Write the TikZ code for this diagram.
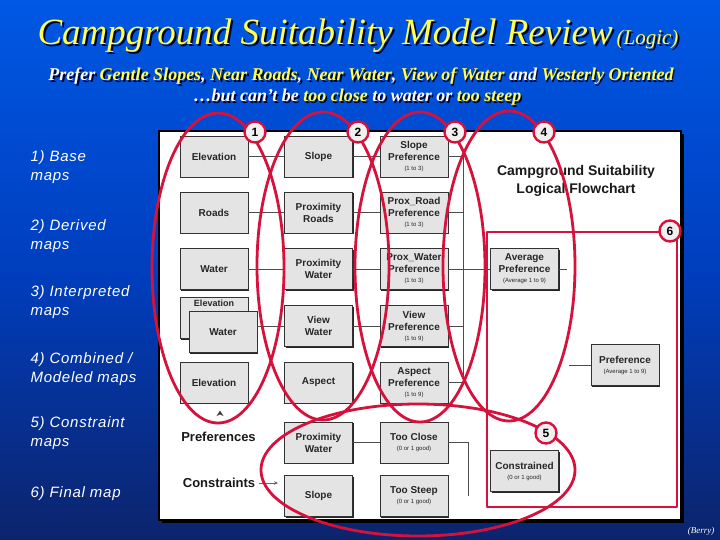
\documentclass[tikz,border=0pt]{standalone}
\usepackage{fontspec}
\setmainfont{Liberation Serif}
\newfontfamily\arial{Liberation Sans}
\newfontfamily\arialsp[LetterSpace=5]{Liberation Sans}
\usetikzlibrary{shadows,arrows.meta}
\definecolor{bgtop}{RGB}{0,88,228}
\definecolor{bgmid}{RGB}{0,62,190}
\definecolor{bgbot}{RGB}{12,36,108}
\definecolor{ttl}{RGB}{255,255,80}
\definecolor{shd}{RGB}{0,0,50}
\definecolor{redl}{RGB}{214,18,60}
\definecolor{boxfill}{RGB}{228,228,228}
\newcommand\smalltag[1]{{\mdseries\fontsize{6}{7}\selectfont #1}}
\newcommand\yl[1]{\textcolor{ttl}{#1}}
\begin{document}
\begin{tikzpicture}[x=1pt,y=-1pt,
  box/.style={draw=black!80, fill=boxfill, line width=0.6pt, minimum width=68pt, minimum height=41pt,
    inner sep=0pt, align=center, text=black!85, font=\arial\bfseries\fontsize{10}{12}\selectfont,
    drop shadow={shadow xshift=1.3pt, shadow yshift=-1.3pt, fill=black!85, opacity=1}},
  conn/.style={draw=black!70, line width=0.5pt},
  ring/.style={draw=redl, line width=2.8pt},
  badge/.style={circle, draw=redl, line width=2.4pt, fill=black!6, minimum size=21pt, inner sep=0pt,
    font=\arial\bfseries\fontsize{12}{12}\selectfont},
  side/.style={anchor=west, align=left, text=white, font=\arialsp\itshape\fontsize{15}{19}\selectfont},
  plain/.style={font=\arial\bfseries\fontsize{13}{15}\selectfont, text=black!90}
]
\useasboundingbox (0,0) rectangle (720,540);
\shade[top color=bgtop, bottom color=bgbot, middle color=bgmid] (0,0) rectangle (720,540);

% title
\node[anchor=base west, text=shd, font=\itshape\fontsize{37}{40}\selectfont] at (36,46.5)
  {Campground Suitability Model Review{\fontsize{21}{24}\selectfont\hspace{4pt}(Logic)}};
\node[anchor=base west, text=ttl, font=\itshape\fontsize{37}{40}\selectfont] (title) at (34,44.5)
  {Campground Suitability Model Review{\fontsize{21}{24}\selectfont\hspace{4pt}(Logic)}};
% subtitle
\node[anchor=base, text=shd, font=\bfseries\itshape\fontsize{18}{20}\selectfont] at (362.5,82.5)
  {Prefer Gentle Slopes, Near Roads, Near Water, View of Water and Westerly Oriented};
\node[anchor=base, text=white, font=\bfseries\itshape\fontsize{18}{20}\selectfont] (sub1) at (361,81)
  {Prefer \yl{Gentle Slopes}, \yl{Near Roads}, \yl{Near Water}, \yl{View of Water} and \yl{Westerly Oriented}};
\node[anchor=base, text=shd, font=\bfseries\itshape\fontsize{18}{20}\selectfont] at (359,103.5)
  {\dots but can’t be too close to water or too steep};
\node[anchor=base, text=white, font=\bfseries\itshape\fontsize{18}{20}\selectfont] (sub2) at (357.5,102)
  {\dots but can’t be \yl{too close} to water or \yl{too steep}};

% left labels
\node[side] (l1) at (27,167) {1) Base\\maps};
\node[side] (l2) at (27,236) {2) Derived\\maps};
\node[side] (l3) at (27,302.5) {3) Interpreted\\maps};
\node[side] (l4) at (27,369) {4) Combined /\\Modeled maps};
\node[side] (l5) at (27,433) {5) Constraint\\maps};
\node[side] (l6) at (27,494) {6) Final map};

% panel
\fill[black] (162,134) rectangle (684,523);
\draw[fill=white, draw=black, line width=1.2pt] (159,131) rectangle (681,520);

\node[font=\arial\bfseries\fontsize{14}{18}\selectfont, align=center, text=black!90] (ptitle) at (576,181)
  {Campground Suitability\\Logical Flowchart};

% column 1
\node[box] (e1) at (214,156.5) {Elevation};
\node[box] (r1) at (214,212.5) {Roads};
\node[box] (w1) at (214,269) {Water};
\node[box] (ev1) at (214,318) {};
\node[font=\arial\bfseries\fontsize{9}{10}\selectfont, text=black!85] (ev1t) at (214,303.5) {Elevation};
\node[box] (wv1) at (223,332) {Water};
\node[box] (el1) at (214,382.5) {Elevation};
% column 2
\node[box] (s2) at (318.5,156.5) {Slope};
\node[box] (pr2) at (318.5,212.5) {Proximity\\Roads};
\node[box] (pw2) at (318.5,269) {Proximity\\Water};
\node[box] (vw2) at (318.5,326) {View\\Water};
\node[box] (as2) at (318.5,382.5) {Aspect};
\node[box] (pc2) at (318.5,442.5) {Proximity\\Water};
\node[box] (st2) at (318.5,496) {Slope};
% column 3
\node[box] (sp3) at (414,156.5) {Slope\\Preference\\[-2pt]\smalltag{(1 to 3)}};
\node[box] (rp3) at (414,212.5) {Prox\_Road\\Preference\\[-2pt]\smalltag{(1 to 3)}};
\node[box] (wp3) at (414,269) {Prox\_Water\\Preference\\[-2pt]\smalltag{(1 to 3)}};
\node[box] (vp3) at (414,326) {View\\Preference\\[-2pt]\smalltag{(1 to 9)}};
\node[box] (ap3) at (414,382.5) {Aspect\\Preference\\[-2pt]\smalltag{(1 to 9)}};
\node[box] (tc3) at (414,442.5) {Too Close\\[-2pt]\smalltag{(0 or 1 good)}};
\node[box] (ts3) at (414,496) {Too Steep\\[-2pt]\smalltag{(0 or 1 good)}};
% combined
\node[box] (avg) at (524.5,269) {Average\\Preference\\[-2pt]\smalltag{(Average 1 to 9)}};
\node[box] (pref) at (625,365) {Preference\\[-2pt]\smalltag{(Average 1 to 9)}};
\node[box] (con) at (524.5,471) {Constrained\\[-2pt]\smalltag{(0 or 1 good)}};

% connectors
\coordinate (v1) at (463,156.5);
\coordinate (v2) at (463,212.5);
\coordinate (v4) at (463,326);
\coordinate (v5) at (463,382.5);
\coordinate (avgout) at (567,269);
\coordinate (prefin) at (569,365);
\coordinate (tcr) at (468,442.5);
\coordinate (tcb) at (468,496);
\draw[conn] (e1) -- (s2);
\draw[conn] (s2) -- (sp3);
\draw[conn] (sp3) -- (v1);
\draw[conn] (r1) -- (pr2);
\draw[conn] (pr2) -- (rp3);
\draw[conn] (rp3) -- (v2);
\draw[conn] (w1) -- (pw2);
\draw[conn] (pw2) -- (wp3);
\draw[conn] (wp3) -- (avg);
\draw[conn] (wv1.east |- vw2.west) -- (vw2.west);
\draw[conn] (vw2) -- (vp3);
\draw[conn] (vp3) -- (v4);
\draw[conn] (ap3) -- (v5);
\draw[conn] (v1) -- (v5);
\draw[conn] (avg) -- (avgout);
\draw[conn] (pref) -- (prefin);
\draw[conn] (pc2) -- (tc3);
\draw[conn] (tc3) -- (tcr) -- (tcb);

% side texts in panel
\node[plain] (prefs) at (218.5,437) {Preferences};
\node[plain] (cons) at (219,483) {Constraints};
\coordinate (consarr) at (278,483);
\draw[black!60, line width=0.5pt, -{Stealth[length=4pt,width=3.5pt]}] (cons.east) -- (consarr);
\fill[black!75] (216.5,416) -- (220,410.5) -- (223.5,416) -- (220,414.5) -- cycle;

% red rings
\draw[ring] (218,268) ellipse [x radius=66pt, y radius=155pt];
\draw[ring] (323,266) ellipse [x radius=66pt, y radius=154pt];
\draw[ring] (420,267) ellipse [x radius=65pt, y radius=155pt];
\draw[ring] (509,266) ellipse [x radius=66pt, y radius=155pt];
\draw[ring] (418,470) ellipse [x radius=157pt, y radius=66pt];
\draw[ring, line join=round] (487,232) rectangle (677,507);

\node[badge] (b1) at (255,132) {1};
\node[badge] (b2) at (358,132) {2};
\node[badge] (b3) at (455,132) {3};
\node[badge] (b4) at (544,132) {4};
\node[badge] (b5) at (546,433) {5};
\node[badge] (b6) at (670,231) {6};

\node[text=white, font=\itshape\fontsize{9}{10}\selectfont] (berry) at (701,531) {(Berry)};
\end{tikzpicture}
\end{document}
